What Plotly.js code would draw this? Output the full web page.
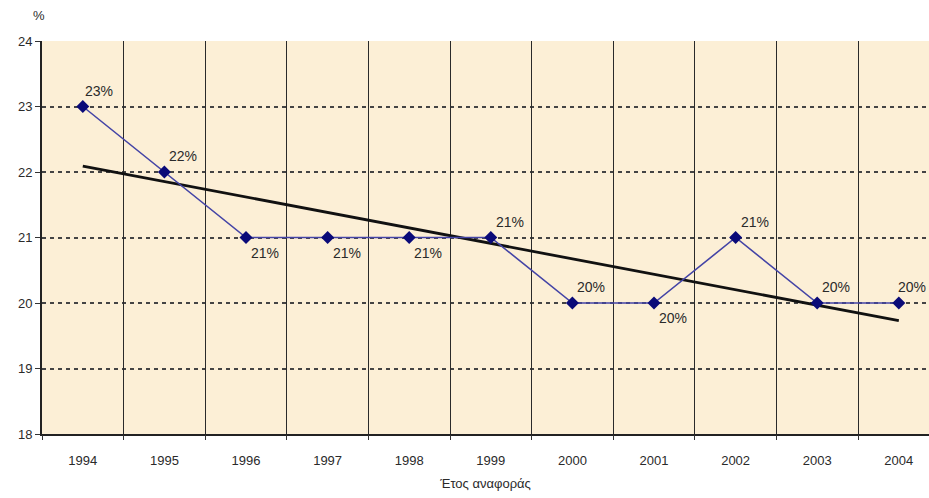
<!DOCTYPE html>
<html><head><meta charset="utf-8">
<script src="https://cdn.plot.ly/plotly-3.0.1.min.js"></script>
<style>html,body{margin:0;padding:0;overflow:hidden;background:#fff}#chart{width:929px;height:498px}</style>
</head><body><div id="chart"></div>
<script>
const years = ['1994','1995','1996','1997','1998','1999','2000','2001','2002','2003','2004'];
const values = [23, 22, 21, 21, 21, 21, 20, 20, 21, 20, 20];
const labels = ['23%','22%','21%','21%','21%','21%','20%','20%','21%','20%','20%'];
// trendline end values (1994 and 2004)
const trendYears = ['1994','2004'];
const trendValues = [22.09, 19.73];
// label placement: 'a' above-right, 'b' below-right
const labelPos = ['a','a','b','b','b','a','a','b','a','a','a'];

const idx = years.map((_, i) => i);
const trendIdx = trendYears.map(y => years.indexOf(y));

const traces = [
  {x: trendIdx, y: trendValues, mode: 'lines', line: {color: '#111', width: 2.8}, hoverinfo: 'skip', showlegend: false},
  {x: idx, y: values, mode: 'lines+markers', line: {color: '#4444a6', width: 1.6},
   marker: {symbol: 'diamond', size: 10, color: '#0a0a78'}, showlegend: false},
  {x: [], y: [], xaxis: 'x2', yaxis: 'y', showlegend: false}
];

const last = idx.length - 1;
const annotations = idx.map(i => ({
  x: i, y: values[i], xref: 'x', yref: 'y', text: labels[i], showarrow: false,
  font: {family: 'Liberation Sans, Arial, sans-serif', size: 14, color: '#2a2a2a'},
  xanchor: i === last ? 'right' : 'center', yanchor: labelPos[i] === 'a' ? 'bottom' : 'top',
  xshift: i === 0 ? 16 : (i === last ? 29 : 19), yshift: labelPos[i] === 'a' ? 6 : -5
}));
annotations.push({
  xref: 'paper', yref: 'paper', x: -0.003, y: 1, yshift: 16, text: '%', showarrow: false,
  xanchor: 'center', yanchor: 'bottom',
  font: {family: 'Liberation Sans, Arial, sans-serif', size: 13, color: '#2a2a2a'}
});

const layout = {
  width: 929, height: 498,
  margin: {l: 42, r: 0, t: 41, b: 64},
  paper_bgcolor: '#ffffff', plot_bgcolor: '#fcefd6',
  font: {family: 'Liberation Sans, Arial, sans-serif', size: 13, color: '#2a2a2a'},
  xaxis: {
    range: [-0.5, 10.37], tickvals: idx, ticktext: years, ticks: '', showgrid: false,
    zeroline: false, showline: true, linecolor: '#222', linewidth: 2,
    tickfont: {size: 13, color: '#2a2a2a'}, ticklabelstandoff: 13,
    title: {text: 'Έτος αναφοράς', font: {size: 13, color: '#2a2a2a'}, standoff: 12}
  },
  xaxis2: {
    overlaying: 'x', matches: 'x', range: [-0.5, 10.37],
    tickvals: [-0.5,0.5,1.5,2.5,3.5,4.5,5.5,6.5,7.5,8.5,9.5,10.5],
    showticklabels: false, ticks: 'outside', ticklen: 5, tickcolor: '#333',
    showgrid: true, gridcolor: '#2a2a2a', gridwidth: 1, zeroline: false, showline: false
  },
  yaxis: {
    range: [18, 24], tickvals: [18,19,20,21,22,23,24], ticks: 'outside', ticklen: 5, tickcolor: '#333',
    showgrid: true, gridcolor: '#444', gridwidth: 2, griddash: '4px,4px',
    zeroline: false, showline: true, linecolor: '#222', linewidth: 2,
    tickfont: {size: 13, color: '#2a2a2a'}
  },
  annotations: annotations
};

Plotly.newPlot('chart', traces, layout, {displayModeBar: false, staticPlot: true});
</script></body></html>
